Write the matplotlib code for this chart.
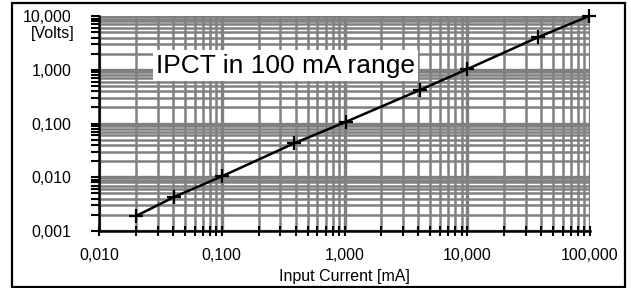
import matplotlib.pyplot as plt
from matplotlib.ticker import LogLocator, FuncFormatter, NullFormatter
from matplotlib.patches import Rectangle

plt.rcParams['font.family'] = ['Liberation Sans', 'DejaVu Sans']

# values
current_ma = [0.020, 0.041, 0.101, 0.39, 1.02, 4.1, 10.0, 38.0, 98.0]
volts = [0.0019, 0.0043, 0.0105, 0.043, 0.107, 0.42, 1.03, 4.07, 10.0]
x_ticks = [0.01, 0.1, 1, 10, 100]
y_ticks = [0.001, 0.01, 0.1, 1, 10]

def comma_fmt(v, pos):
    return f"{v:.3f}".replace('.', ',')

fig = plt.figure(figsize=(6.31, 2.88), dpi=100)
ax = fig.add_axes([0.157, 0.198, 0.778, 0.746])

ax.set_xscale('log')
ax.set_yscale('log')
ax.set_xlim(0.01, 100)
ax.set_ylim(0.001, 10)

ax.set_xticks(x_ticks)
ax.set_yticks(y_ticks)
ax.xaxis.set_major_formatter(FuncFormatter(comma_fmt))
ax.yaxis.set_major_formatter(FuncFormatter(comma_fmt))
ax.xaxis.set_minor_locator(LogLocator(base=10, subs=range(2, 10)))
ax.yaxis.set_minor_locator(LogLocator(base=10, subs=range(2, 10)))
ax.xaxis.set_minor_formatter(NullFormatter())
ax.yaxis.set_minor_formatter(NullFormatter())

ax.grid(True, which='major', color='#808080', linewidth=2.4)
ax.grid(True, which='minor', color='#808080', linewidth=1.8)
ax.set_axisbelow(True)

for s in ['top', 'right']:
    ax.spines[s].set_visible(False)
for s in ['left', 'bottom']:
    ax.spines[s].set_linewidth(1.8)
    ax.spines[s].set_color('black')

ax.tick_params(axis='both', which='both', direction='out', color='black',
               width=1.5, labelsize=11.5)
ax.tick_params(axis='x', which='both', direction='inout', length=7, pad=9)
ax.tick_params(axis='y', which='both', length=6, pad=14)

ax.plot(current_ma, volts, color='black', linewidth=1.8, marker='+',
        markersize=10, markeredgewidth=1.6, zorder=5, clip_on=False)

ax.set_xlabel('Input Current [mA]', fontsize=11.5, labelpad=4)
fig.text(0.119, 0.885, '[Volts]', fontsize=11.5, ha='right', va='center')

ax.text(0.33, 1.2, 'IPCT in 100 mA range', fontsize=19, ha='center', va='center',
        zorder=6,
        bbox=dict(boxstyle='square,pad=0.12', facecolor='white', edgecolor='none'))

fig.patches.append(Rectangle((0.019, 0.002), 0.972, 0.988, transform=fig.transFigure,
                             fill=False, edgecolor='black', linewidth=1.6))

fig.savefig('out.png', dpi=100)
